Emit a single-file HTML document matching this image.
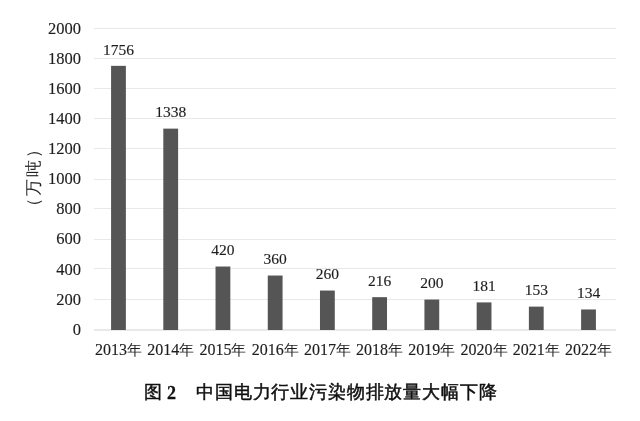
<!DOCTYPE html>
<html><head><meta charset="utf-8"><style>
html,body{margin:0;padding:0;background:#fff;width:640px;height:421px;overflow:hidden}
body{position:relative;font-family:"Liberation Serif",serif;color:#1e1e1e}
svg{position:absolute;left:0;top:0;filter:blur(0.3px)}
.yl,.vl,.xl,.yt,.t{filter:blur(0.3px)}
.yl{position:absolute;left:20px;width:61px;text-align:right;font-size:16.5px;line-height:18px;-webkit-text-stroke:0.15px #1e1e1e}
.vl{position:absolute;width:60px;text-align:center;font-size:15.5px;line-height:18px;-webkit-text-stroke:0.15px #1e1e1e}
.xl{position:absolute;top:341px;width:80px;text-align:center;font-size:16px;line-height:18px;-webkit-text-stroke:0.15px #1e1e1e}
.yt{position:absolute;left:33.5px;top:177px;transform:translate(-50%,-50%) rotate(-90deg);font-size:17px;letter-spacing:2px;line-height:20px;white-space:nowrap;text-spacing-trim:space-all}
.t{position:absolute;top:381px;font-family:"Liberation Sans",sans-serif;font-size:18px;line-height:22px;white-space:nowrap;color:#111}
</style></head><body>
<svg width="640" height="421" viewBox="0 0 640 421"><rect x="94" y="28" width="522" height="1" fill="#e8e8e8"/><rect x="94" y="58" width="522" height="1" fill="#e8e8e8"/><rect x="94" y="88" width="522" height="1" fill="#e8e8e8"/><rect x="94" y="118" width="522" height="1" fill="#e8e8e8"/><rect x="94" y="148" width="522" height="1" fill="#e8e8e8"/><rect x="94" y="179" width="522" height="1" fill="#e8e8e8"/><rect x="94" y="208" width="522" height="1" fill="#e8e8e8"/><rect x="94" y="239" width="522" height="1" fill="#e8e8e8"/><rect x="94" y="268" width="522" height="1" fill="#e8e8e8"/><rect x="94" y="299" width="522" height="1" fill="#e8e8e8"/><rect x="94" y="329" width="522" height="2" fill="#e9e9e9"/><rect x="111.08" y="65.85" width="14.8" height="264.15" fill="#555"/><rect x="163.31" y="128.63" width="14.8" height="201.37" fill="#555"/><rect x="215.53" y="266.52" width="14.8" height="63.48" fill="#555"/><rect x="267.76" y="275.53" width="14.8" height="54.47" fill="#555"/><rect x="319.98" y="290.55" width="14.8" height="39.45" fill="#555"/><rect x="372.21" y="297.16" width="14.8" height="32.84" fill="#555"/><rect x="424.43" y="299.56" width="14.8" height="30.44" fill="#555"/><rect x="476.66" y="302.41" width="14.8" height="27.59" fill="#555"/><rect x="528.88" y="306.62" width="14.8" height="23.38" fill="#555"/><rect x="581.11" y="309.47" width="14.8" height="20.53" fill="#555"/></svg>
<div class="yl" style="top:19.7px">2000</div>
<div class="yl" style="top:49.8px">1800</div>
<div class="yl" style="top:79.9px">1600</div>
<div class="yl" style="top:110.0px">1400</div>
<div class="yl" style="top:140.1px">1200</div>
<div class="yl" style="top:170.2px">1000</div>
<div class="yl" style="top:200.3px">800</div>
<div class="yl" style="top:230.4px">600</div>
<div class="yl" style="top:260.5px">400</div>
<div class="yl" style="top:290.6px">200</div>
<div class="yl" style="top:320.7px">0</div>
<div class="vl" style="left:88.5px;top:40.6px">1756</div>
<div class="xl" style="left:78.5px">2013<span style="-webkit-text-stroke:0;font-size:15px">年</span></div>
<div class="vl" style="left:140.7px;top:103.4px">1338</div>
<div class="xl" style="left:130.7px">2014<span style="-webkit-text-stroke:0;font-size:15px">年</span></div>
<div class="vl" style="left:192.9px;top:241.3px">420</div>
<div class="xl" style="left:182.9px">2015<span style="-webkit-text-stroke:0;font-size:15px">年</span></div>
<div class="vl" style="left:245.2px;top:250.3px">360</div>
<div class="xl" style="left:235.2px">2016<span style="-webkit-text-stroke:0;font-size:15px">年</span></div>
<div class="vl" style="left:297.4px;top:265.3px">260</div>
<div class="xl" style="left:287.4px">2017<span style="-webkit-text-stroke:0;font-size:15px">年</span></div>
<div class="vl" style="left:349.6px;top:272.0px">216</div>
<div class="xl" style="left:339.6px">2018<span style="-webkit-text-stroke:0;font-size:15px">年</span></div>
<div class="vl" style="left:401.8px;top:274.4px">200</div>
<div class="xl" style="left:391.8px">2019<span style="-webkit-text-stroke:0;font-size:15px">年</span></div>
<div class="vl" style="left:454.1px;top:277.2px">181</div>
<div class="xl" style="left:444.1px">2020<span style="-webkit-text-stroke:0;font-size:15px">年</span></div>
<div class="vl" style="left:506.3px;top:281.4px">153</div>
<div class="xl" style="left:496.3px">2021<span style="-webkit-text-stroke:0;font-size:15px">年</span></div>
<div class="vl" style="left:558.5px;top:284.3px">134</div>
<div class="xl" style="left:548.5px">2022<span style="-webkit-text-stroke:0;font-size:15px">年</span></div>
<div class="yt">（万吨）</div>
<div class="t" style="left:144px;-webkit-text-stroke:0.45px #111">图</div>
<div class="t" style="left:167px;top:382px;font-family:'Liberation Serif',serif;font-weight:bold;-webkit-text-stroke:0.3px #111">2</div>
<div class="t" style="left:196px;letter-spacing:0.85px;-webkit-text-stroke:0.5px #111">中国电力行业污染物排放量大幅下降</div>
</body></html>
